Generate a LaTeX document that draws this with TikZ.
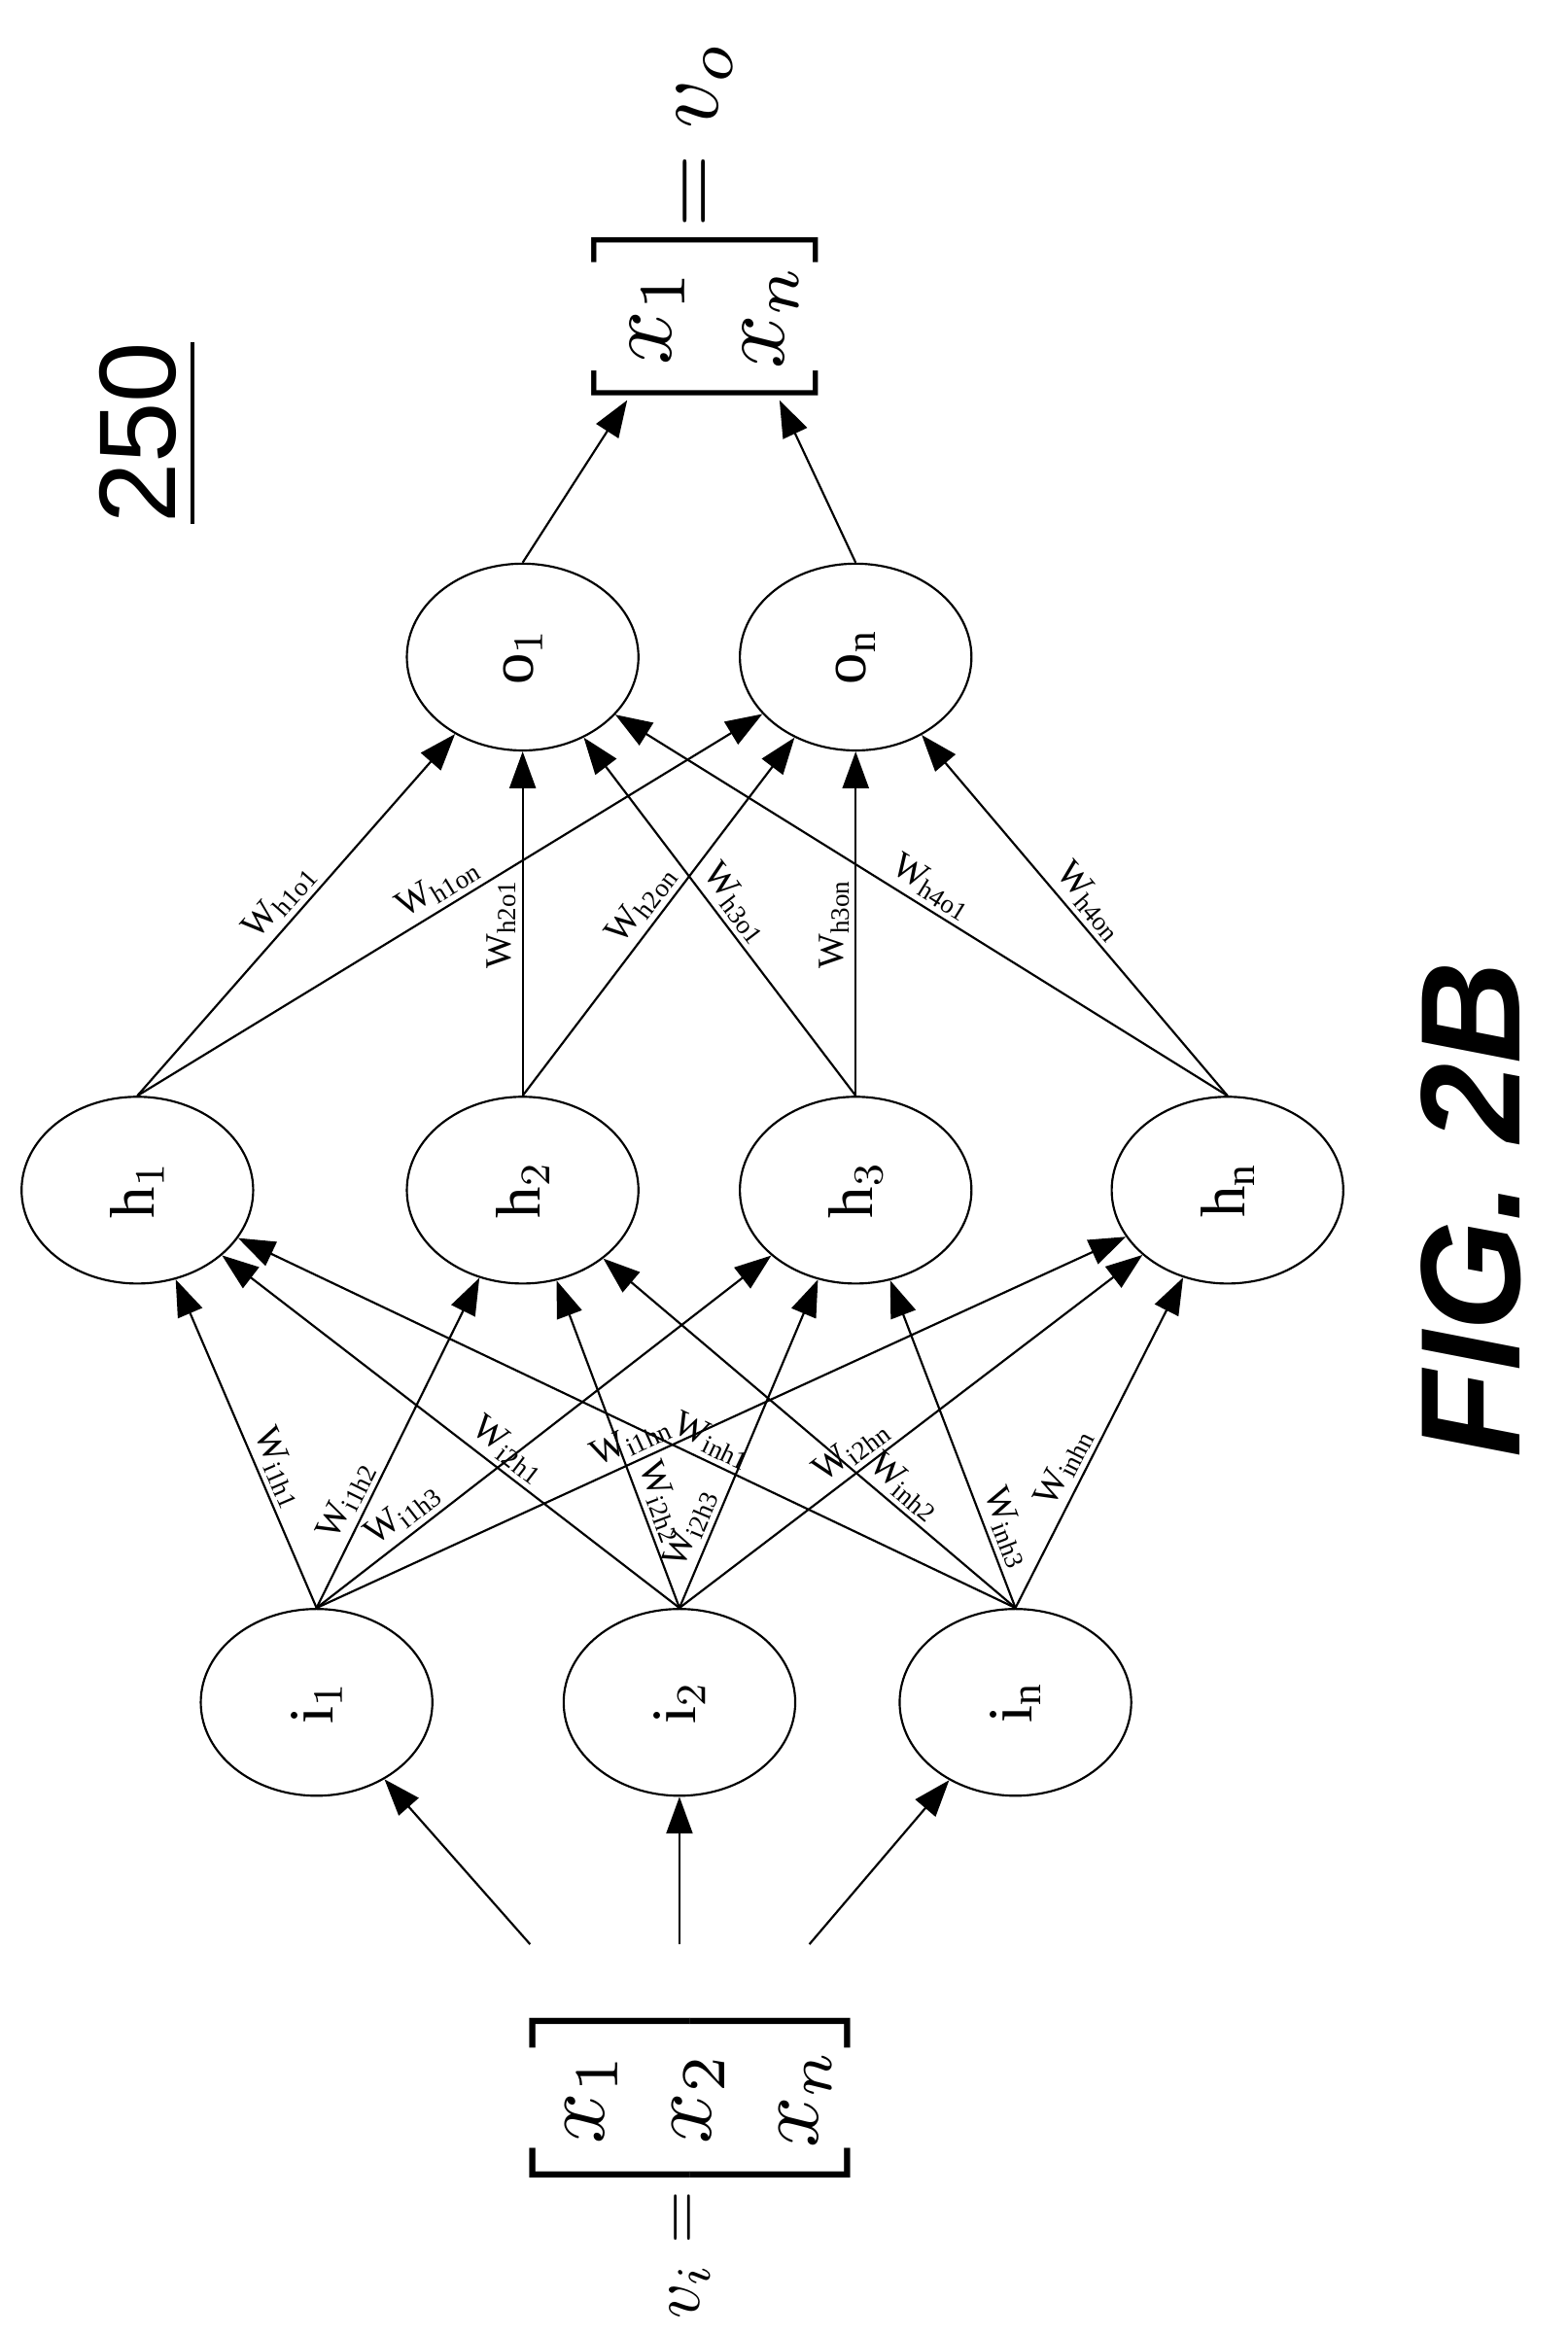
\documentclass[tikz,border=0pt]{standalone}
\usepackage{amsmath}
\usepackage{fontspec}
\setmainfont{Liberation Serif}
\newfontfamily\figfont{Liberation Sans}
\usetikzlibrary{shapes.geometric,arrows.meta}
\begin{document}
\begin{tikzpicture}[x=0.01cm,y=-0.01cm,>={Triangle[length=7pt,width=5pt]}]
	\tikzstyle{unit}=[draw,shape=ellipse,minimum width=1.25cm,minimum height=1.55cm,rotate=90,font=\large]
	\tikzstyle{wlab}=[sloped,font=\scriptsize,inner sep=1pt,above]
	\useasboundingbox (0,0) rectangle (1050,1563);

	\node[unit](i1) at (212,1140){i$_1$};
	\node[unit](i2) at (455,1140){i$_2$};
	\node[unit](in) at (680,1140){i$_{\text{n}}$};

	\node[unit](h1) at (92,797){h$_1$};
	\node[unit](h2) at (350,797){h$_2$};
	\node[unit](h3) at (573,797){h$_3$};
	\node[unit](h4) at (822,797){h$_{\text{n}}$};

	\node[unit](o1) at (350,440){o$_1$};
	\node[unit](on) at (573,440){o$_{\text{n}}$};

	\node[rotate=90,scale=1.7](vin) at (462,1405){$\begin{bmatrix}x_1\\x_2\\x_n\end{bmatrix}$};
	\node[rotate=90,scale=1.3,inner sep=0pt](eqi) at (462,1510){$v_i =$};
	\node[rotate=90,scale=1.8](vout) at (472,212){$\begin{bmatrix}x_1\\x_n\end{bmatrix}$};
	\node[rotate=90,scale=1.8,inner sep=0pt](eqo) at (472,90){$= v_o$};
	\node[rotate=90,font=\figfont\huge](ref) at (100,290){\underline{250}};
	\node[rotate=90,font=\figfont\bfseries\itshape\fontsize{27}{30}\selectfont](fig) at (985,810){FIG. 2B};

	\coordinate (vin1) at (355,1302);
	\coordinate (vin2) at (455,1302);
	\coordinate (vin3) at (542,1302);
	\coordinate (vo1) at (420,268);
	\coordinate (von) at (522,268);

	\draw[->] (vin1) -- (i1);
	\draw[->] (vin2) -- (i2);
	\draw[->] (vin3) -- (in);

	\foreach \i/\a in {i1/1,i2/2,in/n}{
		\foreach \h/\b/\p in {h1/1/0.4,h2/2/0.3,h3/3/0.22,h4/n/0.4}{
			\draw[->] (\i.east) -- (\h) node[wlab,pos=\p]{W$_{\text{i\a h\b}}$};
		}
	}
	\foreach \h/\b in {h1/1,h2/2,h3/3,h4/4}{
		\foreach \o/\c in {o1/1,on/n}{
			\draw[->] (\h.east) -- (\o) node[wlab,pos=0.5]{W$_{\text{h\b o\c}}$};
		}
	}

	\draw[->] (o1.east) -- (vo1);
	\draw[->] (on.east) -- (von);
\end{tikzpicture}
\end{document}
